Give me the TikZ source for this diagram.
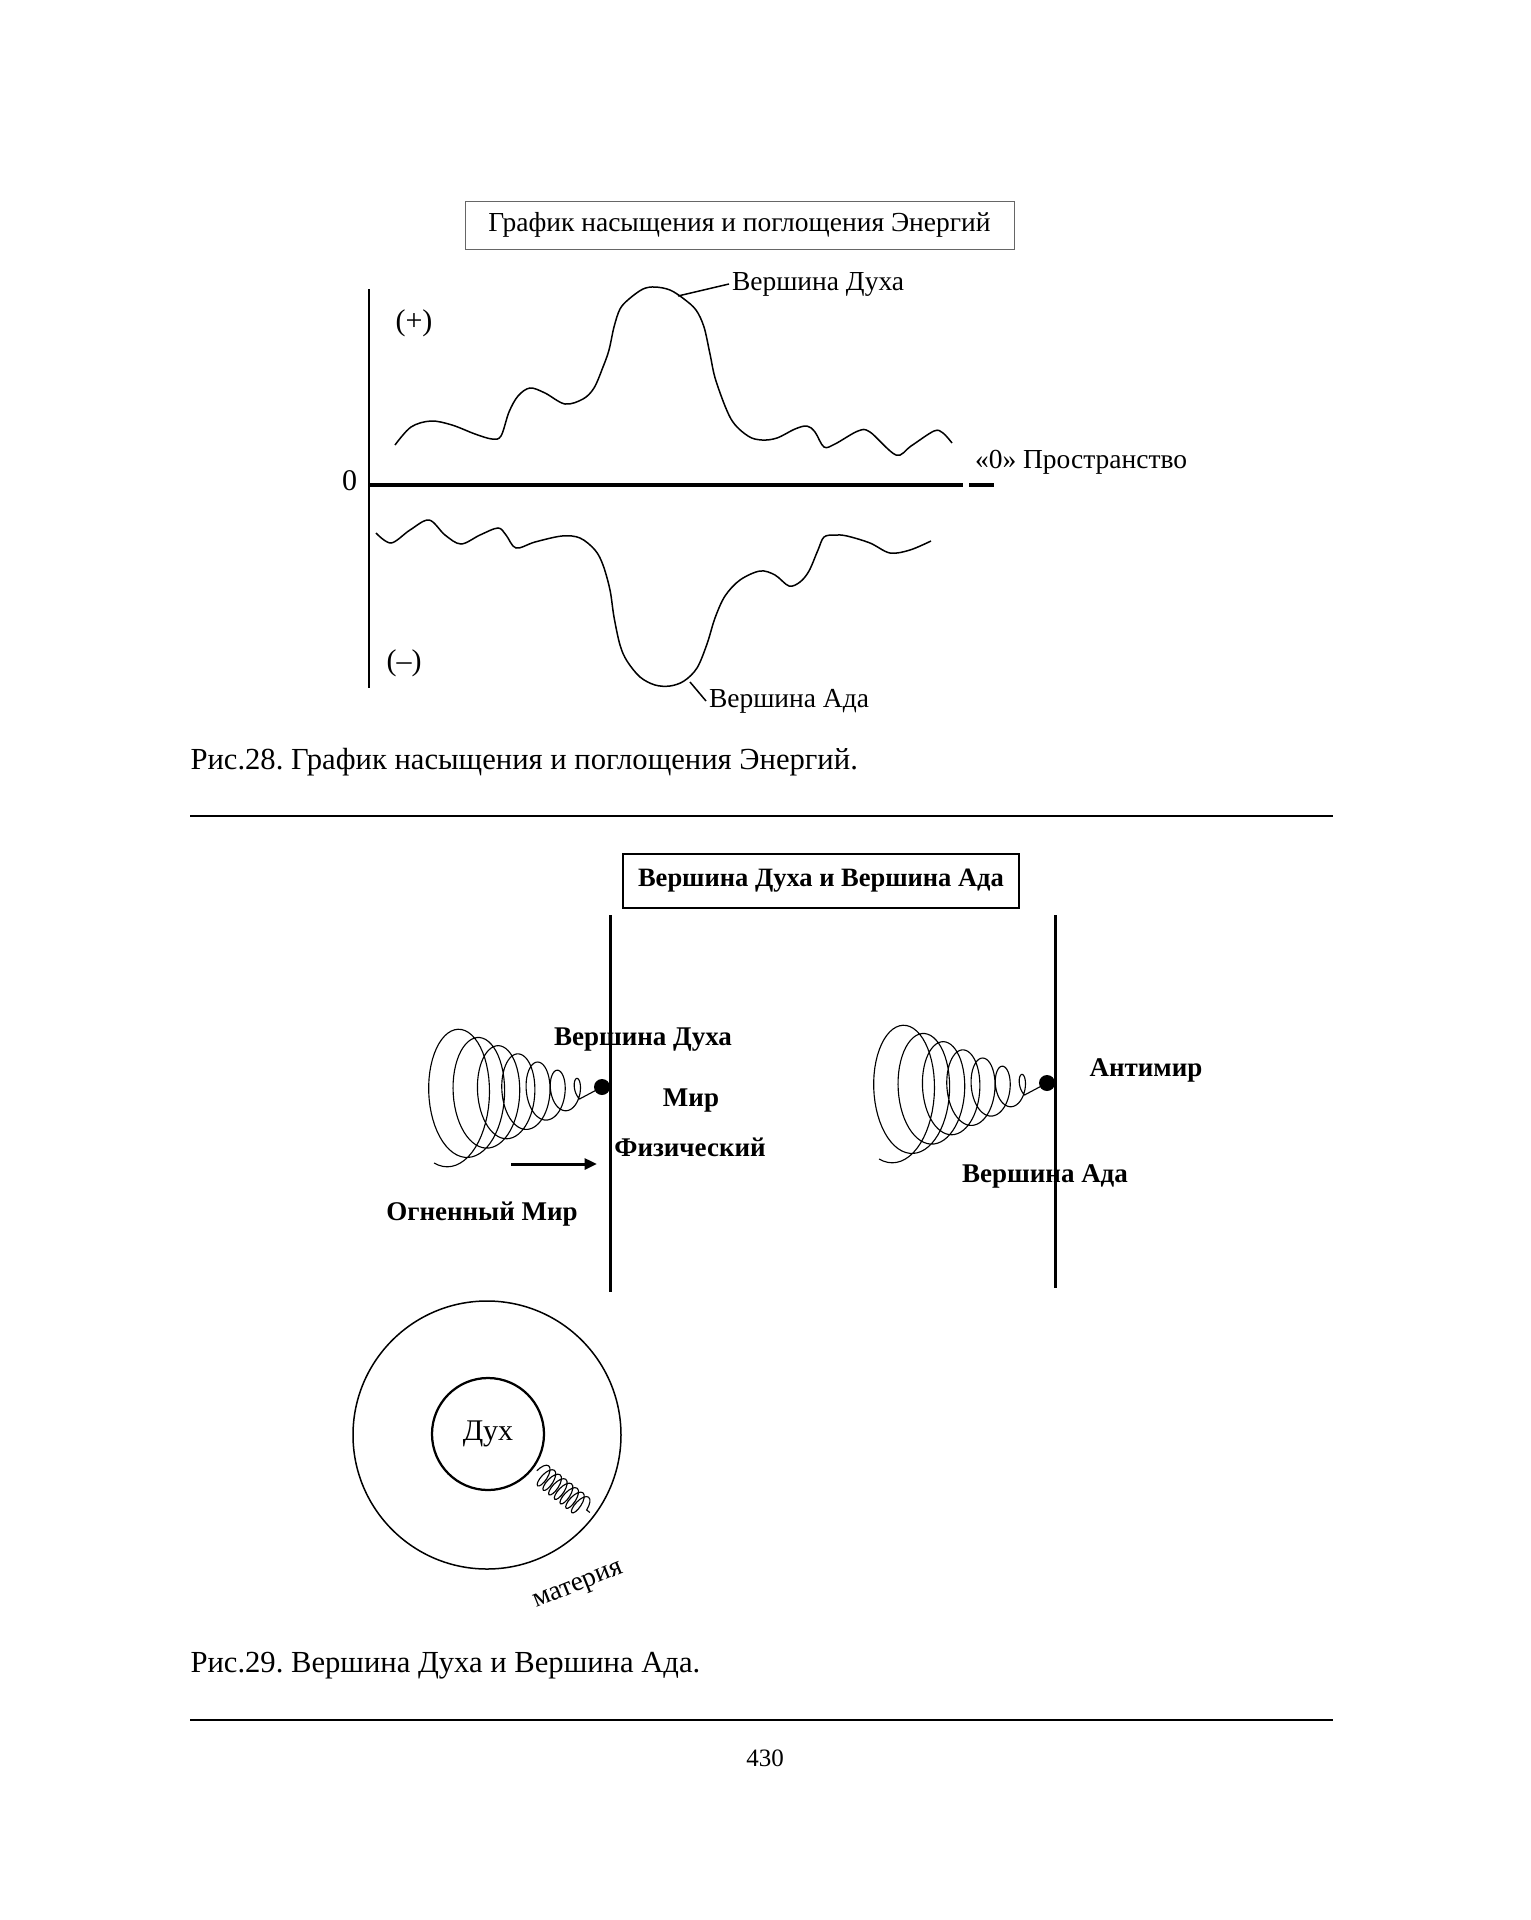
\documentclass[tikz,border=0pt]{standalone}
\usepackage{fontspec}
\setmainfont{Liberation Serif}
\usetikzlibrary{arrows.meta, positioning, decorations.pathmorphing}
\frenchspacing

\begin{document}
\begin{tikzpicture}[
		% 1 unit = 1 px of the page, y runs downwards
		x=0.4pt, y=-0.4pt,
		font=\fontsize{12}{14}\selectfont,
		titlebox/.style = {draw, rectangle, inner sep=0pt, align=center},
		lbl/.style = {inner sep=1pt, font=\fontsize{11}{13}\selectfont},
		boldlbl/.style = {inner sep=1pt, font=\fontsize{10.8}{13}\selectfont\bfseries},
		caption/.style = {anchor=west, inner sep=0pt, font=\fontsize{12.25}{14}\selectfont},
		curve/.style = {line width=0.6pt, smooth, tension=0.55},
		rule/.style = {line width=0.6pt},
		wall/.style = {line width=1.2pt},
		dot/.style = {circle, fill, inner sep=0pt, minimum size=6.4pt},
		% conical spiral ending in the point (0,0)
		spiral/.pic = {
			\draw[line width=0.45pt] plot[domain=0:1, samples=400, variable=\s]
				({-155+137*\s + 0.53*(71.3-60.8*\s)*cos(110-2495*\s)},
				 {9-4*\s + (71.3-60.8*\s)*sin(110-2495*\s)}) -- (0,0);
		},
		>={Triangle[length=5pt, width=4.4pt]}
	]
	\useasboundingbox[fill=white] (0,0) rectangle (1531,1920);

	% --- РИС. 28: график ---
	\node[titlebox, draw=black!60, minimum width=219.6pt, minimum height=19.2pt, font=\fontsize{11}{13}\selectfont] (title1) at (739.5,225) {График насыщения и поглощения Энергий};

	\coordinate (axtop) at (369,289);
	\coordinate (axbot) at (369,688);
	\coordinate (zero) at (369,485);
	\coordinate (zeroend) at (963,485);
	\coordinate (gapend) at (969,485);
	\coordinate (zerotip) at (994,485);
	\draw[line width=0.8pt] (axtop) -- (axbot);
	\draw[line width=1.6pt] (zero) -- (zeroend);
	\draw[line width=1.6pt] (gapend) -- (zerotip);

	\node[anchor=east, inner sep=1pt] (zerolbl) at (360,481) {0};
	\node (plus) at (414,323) {(+)};
	\node (minus) at (404,663) {(–)};
	\node[lbl, anchor=west] (space) at (972,462) {«0» Пространство};

	% верхняя кривая (насыщение)
	\draw[curve] plot coordinates {(395,445) (411,427) (431,421) (452,425) (475,434) (492,439) (501,436) (509,412) (518,396) (530,388) (545,393) (565,404) (583,399) (594,388) (603,367) (609,350) (614,327) (620,309) (629,299) (643,289) (655,287) (670,290) (684,299) (696,310) (704,327) (710,354) (716,381) (731,419) (748,436) (762,440) (777,438) (795,429) (807,426) (815,432) (824,447) (835,444) (858,431) (870,432) (896,455) (911,446) (934,431) (943,433) (952,443)};
	% нижняя кривая (поглощение)
	\draw[curve] plot coordinates {(376,533) (391,543) (410,530) (429,520) (445,535) (461,544) (480,535) (498,528) (506,535) (516,548) (535,542) (562,536) (580,538) (595,550) (603,565) (610,590) (614,617) (620,645) (627,661) (640,677) (655,685) (670,686) (684,681) (697,668) (707,644) (715,618) (725,596) (740,580) (760,571) (775,575) (789,586) (800,582) (809,571) (818,550) (824,537) (835,535) (847,536) (870,543) (890,553) (910,550) (931,541)};

	\coordinate (peaktop) at (678,296);
	\coordinate (peakbot) at (690,682);
	\node[lbl, anchor=west] (vdtop) at (729,284) {Вершина Духа};
	\node[lbl, anchor=west] (vabot) at (706,701) {Вершина Ада};
	\draw[line width=0.6pt] (peaktop) -- (vdtop.west);
	\draw[line width=0.6pt] (peakbot) -- (vabot.west);

	\node[caption] (cap28) at (190,762) {Рис.28. График насыщения и поглощения Энергий.};
	\coordinate (sepAl) at (190,816);
	\coordinate (sepAr) at (1333,816);
	\draw[rule] (sepAl) -- (sepAr);

	% --- РИС. 29: Вершина Духа и Вершина Ада ---
	\node[titlebox, line width=0.7pt, minimum width=158.4pt, minimum height=21.6pt, font=\fontsize{10.6}{13}\selectfont\bfseries] (title2) at (821,881) {Вершина Духа и Вершина Ада};

	\coordinate (wallAtop) at (610,915);
	\coordinate (wallAbot) at (610,1292);
	\coordinate (wallBtop) at (1055,915);
	\coordinate (wallBbot) at (1055,1288);
	\draw[wall] (wallAtop) -- (wallAbot);
	\draw[wall] (wallBtop) -- (wallBbot);

	\node[dot] (dotA) at (602,1087) {};
	\node[dot] (dotB) at (1047,1083) {};
	\pic at (dotA) {spiral};
	\pic at (dotB) {spiral};

	\node[boldlbl] (duhA) at (643,1040) {Вершина Духа};
	\node[boldlbl] (mir) at (691,1101) {Мир};
	\node[boldlbl] (phys) at (690,1147) {Физический};
	\node[boldlbl] (fire) at (482,1214) {Огненный Мир};
	\node[boldlbl] (anti) at (1146,1070) {Антимир};
	\node[boldlbl] (adaB) at (1045,1176) {Вершина Ада};

	\coordinate (flowS) at (511,1164);
	\coordinate (flowE) at (597,1164);
	\draw[->, line width=1.2pt] (flowS) -- (flowE);

	% круг: Дух и материя
	\coordinate (materia) at (487,1435);
	\draw[line width=0.6pt] (materia) circle[radius=134];
	\node[circle, draw, line width=0.9pt, minimum size=44.8pt, inner sep=0pt] (duh) at (488,1434) {Дух};
	\coordinate (coilS) at ([shift={(-37:1.6pt)}]duh.-37);
	\coordinate (coilE) at ([shift={(-37:51.5pt)}]materia);
	\draw[line width=0.45pt, decorate, decoration={coil, amplitude=4.5pt, segment length=2.9pt, aspect=0.4}] (coilS) -- (coilE);
	\node[lbl, rotate=22] (matlbl) at (579,1587) {материя};

	\node[caption] (cap29) at (190,1666) {Рис.29. Вершина Духа и Вершина Ада.};
	\coordinate (sepBl) at (190,1720);
	\coordinate (sepBr) at (1333,1720);
	\draw[rule] (sepBl) -- (sepBr);

	\node[font=\fontsize{10}{12}\selectfont] (pagenum) at (765,1758) {430};
\end{tikzpicture}
\end{document}
